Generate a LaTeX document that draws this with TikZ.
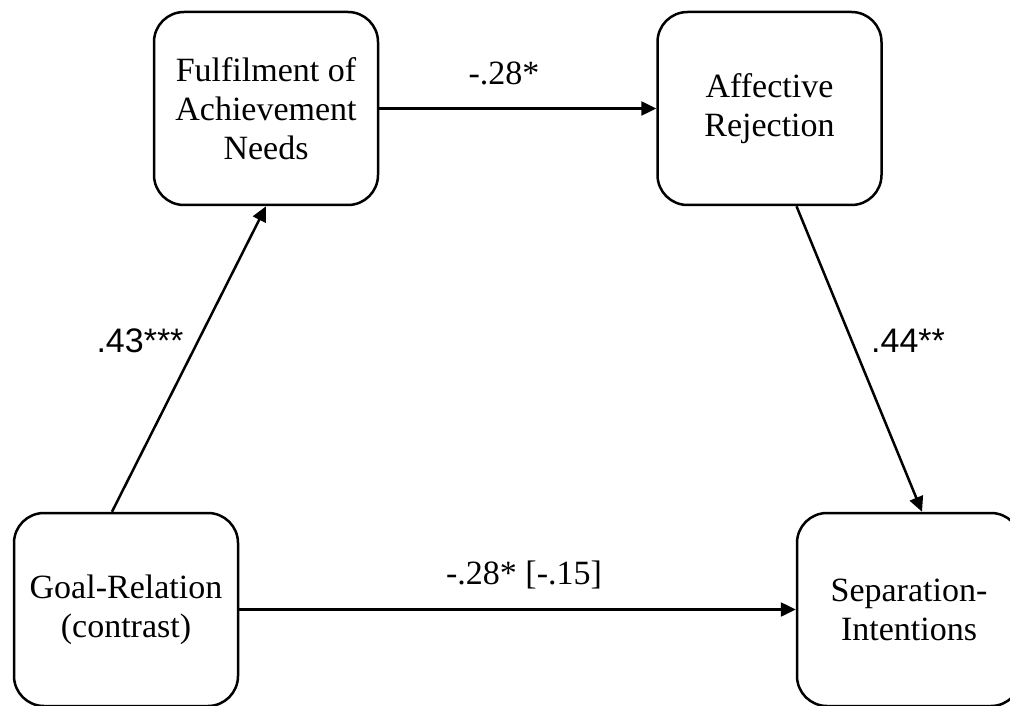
\documentclass[tikz,border=0pt]{standalone}
\usepackage{fontspec}
\setmainfont{Liberation Serif}
\setsansfont{Liberation Sans}
\usetikzlibrary{arrows.meta}
\tikzset{
  varbox/.style={draw, line width=2.5pt, rounded corners=30pt, minimum width=224pt, minimum height=193pt, align=center, inner sep=0pt},
  path/.style={line width=2.5pt, -{Triangle[length=15pt, width=14pt]}},
}
\begin{document}
\begin{tikzpicture}[x=1pt, y=-1pt, font=\fontsize{34}{39}\selectfont, line join=round]
	\useasboundingbox (0,0) rectangle (1010,706);
	
	% Cac bien
	\node[varbox] (fulfil) at (266,108.5) {Fulfilment of\\Achievement\\Needs};
	\node[varbox] (affect) at (769.5,108.5) {Affective\\Rejection};
	\node[varbox] (goal) at (126,609.5) {Goal-Relation\\(contrast)};
	\node[varbox] (separ) at (909,609.5) {Separation-\\Intentions};
	
	% Cac duong noi
	\draw[path] (fulfil.east) -- (affect.west);
	\draw[path] (goal.east) -- (separ.west);
	\draw[path] ([xshift=-14pt]goal.north) -- (fulfil.south);
	\draw[path] ([xshift=27pt]affect.south) -- ([xshift=13pt]separ.north);
	
	% He so
	\node (ctop) at (504,73) {-.28*};
	\node (cbot) at (524,575) {-.28* [-.15]};
	\node[font=\sffamily\fontsize{34}{39}\selectfont] (cleft) at (140,341) {.43***};
	\node[font=\sffamily\fontsize{34}{39}\selectfont] (cright) at (908,341) {.44**};
\end{tikzpicture}
\end{document}
